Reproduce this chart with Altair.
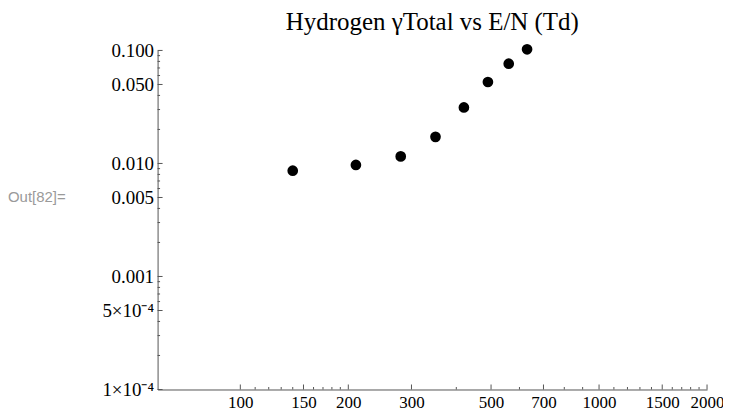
import altair as alt
import pandas as pd

# ---- data ----
en_td = [140, 210, 280, 350, 420, 490, 560, 630]
gamma_total = [0.00863, 0.0097, 0.01155, 0.0172, 0.0313, 0.0526, 0.0764, 0.1023]

x_major = [100, 150, 200, 300, 500, 700, 1000, 1500, 2000]
x_labels = ["100", "150", "200", "300", "500", "700", "1000", "1500", "2000"]
x_minor = [110, 120, 130, 140, 160, 170, 180, 190, 400, 600, 800, 900,
           1100, 1200, 1300, 1400, 1600, 1700, 1800, 1900]
y_major = [0.0001, 0.0005, 0.001, 0.005, 0.01, 0.05, 0.1]
y_labels = ["1×10⁻⁴", "5×10⁻⁴", "0.001", "0.005", "0.010", "0.050", "0.100"]
y_minor = [0.0002, 0.0003, 0.0004, 0.0006, 0.0007, 0.0008, 0.0009,
           0.002, 0.003, 0.004, 0.006, 0.007, 0.008, 0.009,
           0.02, 0.03, 0.04, 0.06, 0.07, 0.08, 0.09]

title_text = "Hydrogen γTotal vs E/N (Td)"
out_label = "Out[82]="

W, H = 551, 340
SERIF = "Liberation Serif"
AXC = "#555555"


def label_expr(values, labels):
    expr = "''"
    for v, lab in reversed(list(zip(values, labels))):
        expr = f"abs(datum.value - {v}) < {v * 1e-4} ? '{lab}' : ({expr})"
    return expr


xscale = alt.Scale(type="log", domain=[58.8, 2000], nice=False)
yscale = alt.Scale(type="log", domain=[0.0001, 0.1], nice=False)

xaxis = alt.Axis(values=x_major, labelExpr=label_expr(x_major, x_labels),
                 ticks=False, tickSize=0, grid=False, title=None,
                 labelFont=SERIF, labelFontSize=17, labelColor="black",
                 labelPadding=5, labelFlush=False, labelOverlap=False,
                 domainColor=AXC, domainWidth=1)
yaxis = alt.Axis(values=y_major, labelExpr=label_expr(y_major, y_labels),
                 ticks=False, tickSize=0, grid=False, title=None,
                 labelFont=SERIF, labelFontSize=19, labelColor="black",
                 labelPadding=4, labelFlush=False, labelOverlap=False,
                 domainColor=AXC, domainWidth=1)

X = alt.X("x:Q", scale=xscale, axis=xaxis)
Y = alt.Y("y:Q", scale=yscale, axis=yaxis)

pts = alt.Chart(pd.DataFrame({"x": en_td, "y": gamma_total})).mark_circle(
    size=115, color="black", opacity=1).encode(x=X, y=Y)

xt_major = alt.Chart(pd.DataFrame({"x": x_major})).mark_rule(
    color=AXC, strokeWidth=1).encode(x=X, y=alt.value(H), y2=alt.value(H - 5))
xt_minor = alt.Chart(pd.DataFrame({"x": x_minor})).mark_rule(
    color=AXC, strokeWidth=1).encode(x=X, y=alt.value(H), y2=alt.value(H - 2.5))
yt_major = alt.Chart(pd.DataFrame({"y": y_major})).mark_rule(
    color=AXC, strokeWidth=1).encode(y=Y, x=alt.value(0), x2=alt.value(5))
yt_minor = alt.Chart(pd.DataFrame({"y": y_minor})).mark_rule(
    color=AXC, strokeWidth=1).encode(y=Y, x=alt.value(0), x2=alt.value(2.5))

out_txt = alt.Chart(pd.DataFrame({"t": [out_label]})).mark_text(
    font="Liberation Sans", fontSize=15, color="#9a9a9a", align="left",
    baseline="middle").encode(text="t:N", x=alt.value(-150), y=alt.value(147))

chart = alt.layer(xt_minor, xt_major, yt_minor, yt_major, pts, out_txt).properties(
    width=W, height=H,
    title=alt.TitleParams(title_text, font=SERIF, fontSize=25, fontWeight="normal",
                          color="black", anchor="middle", offset=7),
    autosize=alt.AutoSizeParams(type="none"),
    padding={"left": 150, "top": 42, "right": 16, "bottom": 24},
).configure_view(stroke=None)

chart.save("out.html", embed_options={"renderer": "svg", "actions": False})
